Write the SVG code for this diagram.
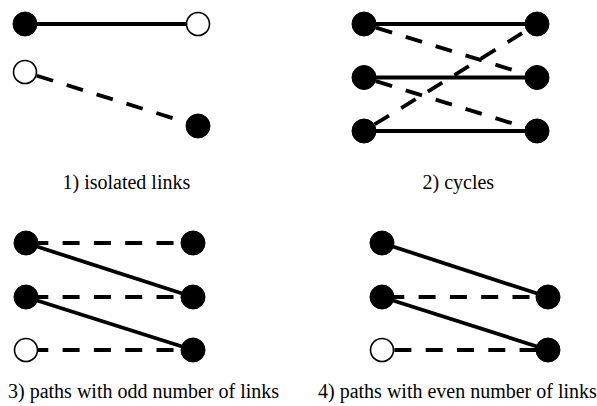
<svg xmlns="http://www.w3.org/2000/svg" width="597" height="406" viewBox="0 0 597 406">
<style>
.s{stroke:#000;stroke-width:3.8;fill:none}
.d{stroke:#000;stroke-width:3.8;fill:none;stroke-dasharray:17 14.3;stroke-dashoffset:18.9}
.h{stroke-dashoffset:26}
.f{fill:#000;stroke:#000;stroke-width:1}
.o{fill:#fff;stroke:#000;stroke-width:1.6}
.t{font-family:"Liberation Serif",Tinos,"Times New Roman",Times,"Noto Serif","DejaVu Serif",serif;font-size:20px;fill:#000}
</style>
<rect width="597" height="406" fill="#fff"/>
<g id="connectors">
<line class="s" x1="25" y1="24" x2="198" y2="24"/>
<line class="d" x1="25" y1="72" x2="198" y2="126"/>
<line class="s" x1="364" y1="24" x2="537" y2="24"/>
<line class="s" x1="364" y1="77.5" x2="537" y2="77.5"/>
<line class="s" x1="364" y1="131" x2="537" y2="131"/>
<line class="d" x1="364" y1="24" x2="537" y2="77.5"/>
<line class="d" x1="364" y1="77.5" x2="537" y2="131"/>
<line class="d" x1="364" y1="131" x2="537" y2="24"/>
<line class="d h" x1="26" y1="243" x2="193" y2="243"/>
<line class="d h" x1="26" y1="297" x2="193" y2="297"/>
<line class="d h" x1="26" y1="350" x2="193" y2="350"/>
<line class="s" x1="26" y1="243" x2="193" y2="297"/>
<line class="s" x1="26" y1="297" x2="193" y2="350"/>
<line class="s" x1="382" y1="243" x2="548" y2="297"/>
<line class="s" x1="382" y1="297" x2="548" y2="350"/>
<line class="d h" x1="382" y1="297" x2="548" y2="297"/>
<line class="d" x1="382" y1="350" x2="548" y2="350"/>
</g>
<g id="p1a"><circle class="f" cx="25" cy="24" r="12"/></g>
<g id="p1b"><circle class="o" cx="198" cy="24" r="11.5"/></g>
<g id="p1c"><circle class="o" cx="25" cy="72" r="11.5"/></g>
<g id="p1d"><circle class="f" cx="198" cy="126" r="12"/></g>
<g id="p2l1"><circle class="f" cx="364" cy="24" r="12"/></g>
<g id="p2l2"><circle class="f" cx="364" cy="77.5" r="12"/></g>
<g id="p2l3"><circle class="f" cx="364" cy="131" r="12"/></g>
<g id="p2r1"><circle class="f" cx="537" cy="24" r="12"/></g>
<g id="p2r2"><circle class="f" cx="537" cy="77.5" r="12"/></g>
<g id="p2r3"><circle class="f" cx="537" cy="131" r="12"/></g>
<g id="p3l1"><circle class="f" cx="26" cy="243" r="12"/></g>
<g id="p3l2"><circle class="f" cx="26" cy="297" r="12"/></g>
<g id="p3l3"><circle class="o" cx="26" cy="350" r="11.5"/></g>
<g id="p3r1"><circle class="f" cx="193" cy="243" r="12"/></g>
<g id="p3r2"><circle class="f" cx="193" cy="297" r="12"/></g>
<g id="p3r3"><circle class="f" cx="193" cy="350" r="12"/></g>
<g id="p4l1"><circle class="f" cx="382" cy="243" r="12"/></g>
<g id="p4l2"><circle class="f" cx="382" cy="297" r="12"/></g>
<g id="p4l3"><circle class="o" cx="382" cy="350" r="11.5"/></g>
<g id="p4r2"><circle class="f" cx="548" cy="297" r="12"/></g>
<g id="p4r3"><circle class="f" cx="548" cy="350" r="12"/></g>
<g id="captions">
<text class="t" x="62.5" y="189">1) isolated links</text>
<text class="t" x="422.5" y="189">2) cycles</text>
<text class="t" x="8" y="398">3) paths with odd number of links</text>
<text class="t" x="318" y="398">4) paths with even number of links</text>
</g>
</svg>
